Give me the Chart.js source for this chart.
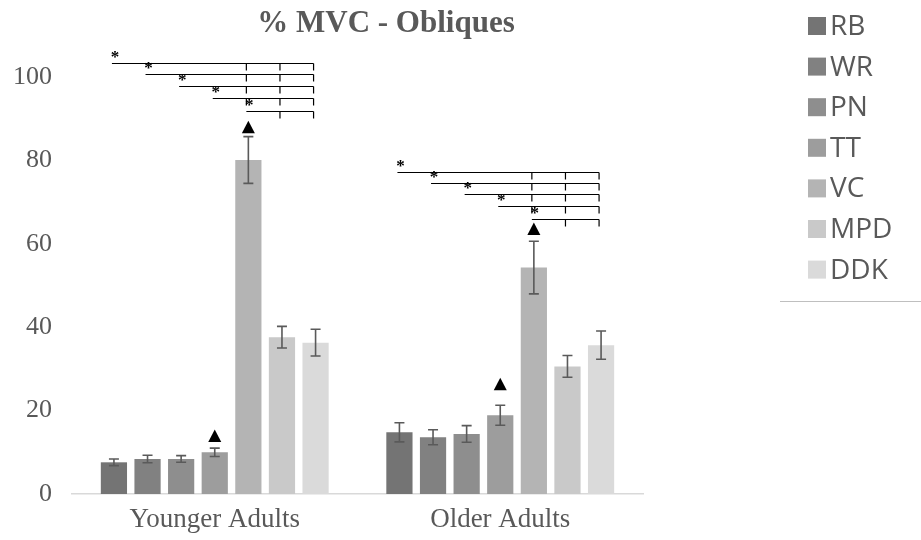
<!DOCTYPE html>
<html>
<head>
<meta charset="utf-8">
<script src="https://cdn.jsdelivr.net/npm/chart.js@4/dist/chart.umd.min.js"></script>
<style>
  html, body { margin: 0; padding: 0; background: #ffffff; }
  #c { display: block; }
</style>
</head>
<body>
<canvas id="c" width="921" height="540"></canvas>
<script>
// Groups and tasks
const groups = ['Younger Adults', 'Older Adults'];
const tasks = ['RB', 'WR', 'PN', 'TT', 'VC', 'MPD', 'DDK'];

// Mean % MVC per task: [younger, older]
const meanRB  = [7.6, 14.8];
const meanWR  = [8.4, 13.6];
const meanPN  = [8.4, 14.4];
const meanTT  = [10.0, 18.9];
const meanVC  = [80.1, 54.3];
const meanMPD = [37.6, 30.6];
const meanDDK = [36.3, 35.7];

// Standard error per task: [younger, older]
const errRB  = [0.8, 2.3];
const errWR  = [0.9, 1.8];
const errPN  = [0.8, 2.0];
const errTT  = [1.0, 2.4];
const errVC  = [5.6, 6.3];
const errMPD = [2.6, 2.6];
const errDDK = [3.2, 3.4];

// Y-axis ticks
const yTicks = [0, 20, 40, 60, 80, 100];

// Triangle markers (value of the marker base): [younger, older]
const triangleTT = [12.5, 24.9];
const triangleVC = [86.5, 62.1];

// Significance bracket levels, one per starting task (RB, WR, PN, TT, VC)
const bracketStarts = ['RB', 'WR', 'PN', 'TT', 'VC'];
const bracketTicks = ['VC', 'MPD', 'DDK'];
const bracketYounger = [103.4, 100.8, 97.9, 95.0, 91.9];
const bracketOlder = [77.1, 74.7, 71.9, 69.1, 65.9];

const means = [meanRB, meanWR, meanPN, meanTT, meanVC, meanMPD, meanDDK];
const errors = [errRB, errWR, errPN, errTT, errVC, errMPD, errDDK];
const colors = ['#747474', '#818181', '#8e8e8e', '#9d9d9d', '#b4b4b4', '#c9c9c9', '#dadada'];
const triangles = { TT: triangleTT, VC: triangleVC };
const brackets = [bracketYounger, bracketOlder];

const textGrey = '#595959';

const overlay = {
  id: 'overlay',
  afterDatasetsDraw(chart) {
    const { ctx } = chart;
    const y = chart.scales.y;
    const barX = (s, g) => chart.getDatasetMeta(s).data[g].x;
    ctx.save();

    // error bars
    ctx.strokeStyle = '#5a5a5a';
    ctx.lineWidth = 1.6;
    means.forEach((vals, s) => vals.forEach((v, g) => {
      const x = barX(s, g);
      const e = errors[s][g];
      const yt = y.getPixelForValue(v + e);
      const yb = y.getPixelForValue(v - e);
      ctx.beginPath();
      ctx.moveTo(x, yt); ctx.lineTo(x, yb);
      ctx.moveTo(x - 5, yt); ctx.lineTo(x + 5, yt);
      ctx.moveTo(x - 5, yb); ctx.lineTo(x + 5, yb);
      ctx.stroke();
    }));

    // triangle markers
    ctx.fillStyle = '#000000';
    Object.keys(triangles).forEach(task => {
      const s = tasks.indexOf(task);
      triangles[task].forEach((v, g) => {
        const x = barX(s, g);
        const base = y.getPixelForValue(v);
        ctx.beginPath();
        ctx.moveTo(x - 6.5, base);
        ctx.lineTo(x + 6.5, base);
        ctx.lineTo(x, base - 12.5);
        ctx.closePath();
        ctx.fill();
      });
    });

    // significance brackets with asterisks
    ctx.strokeStyle = '#000000';
    ctx.lineWidth = 1.2;
    ctx.font = 'bold 17px "Liberation Serif"';
    ctx.textAlign = 'center';
    ctx.textBaseline = 'alphabetic';
    const endIdx = tasks.indexOf('DDK');
    brackets.forEach((levels, g) => {
      levels.forEach((lv, k) => {
        const si = tasks.indexOf(bracketStarts[k]);
        const ly = Math.round(y.getPixelForValue(lv)) + 0.5;
        const x0 = barX(si, g) - 2;
        const x1 = barX(endIdx, g) - 2;
        ctx.beginPath();
        ctx.moveTo(x0, ly); ctx.lineTo(x1, ly);
        bracketTicks.forEach(t => {
          const ti = tasks.indexOf(t);
          if (ti > si) {
            const tx = barX(ti, g) - 2;
            ctx.moveTo(tx, ly); ctx.lineTo(tx, ly + 7);
          }
        });
        ctx.stroke();
        ctx.fillText('*', barX(si, g) + 1, ly - 2);
      });
    });
    ctx.restore();
  },
  afterDraw(chart) {
    const { ctx } = chart;
    ctx.save();
    // title
    ctx.fillStyle = textGrey;
    ctx.font = 'bold 31px "Liberation Serif"';
    ctx.textAlign = 'center';
    ctx.textBaseline = 'alphabetic';
    ctx.fillText('% MVC - Obliques', 386, 32);

    // legend
    ctx.font = '28px "Open Sans"';
    ctx.textAlign = 'left';
    ctx.textBaseline = 'middle';
    tasks.forEach((t, i) => {
      const cy = 26 + i * 40.6;
      ctx.fillStyle = colors[i];
      ctx.fillRect(808, cy - 9, 18, 18);
      ctx.fillStyle = textGrey;
      ctx.fillText(t, 830, cy + 1);
    });
    ctx.strokeStyle = '#bfbfbf';
    ctx.lineWidth = 1;
    ctx.beginPath();
    ctx.moveTo(780, 301.5); ctx.lineTo(921, 301.5);
    ctx.stroke();
    ctx.restore();
  }
};

new Chart(document.getElementById('c'), {
  type: 'bar',
  data: {
    labels: groups,
    datasets: tasks.map((t, i) => ({
      label: t,
      data: means[i],
      backgroundColor: colors[i],
      borderWidth: 0,
      categoryPercentage: 0.824,
      barPercentage: 0.78
    }))
  },
  options: {
    responsive: false,
    animation: false,
    devicePixelRatio: 1,
    layout: { padding: { left: 13, right: 278, top: 77, bottom: 0 } },
    plugins: {
      legend: { display: false },
      title: { display: false },
      tooltip: { enabled: false }
    },
    scales: {
      x: {
        grid: { display: false, drawTicks: false },
        border: { display: true, color: '#d9d9d9', width: 1.5 },
        afterFit: s => { s.height = 46; },
        ticks: {
          color: textGrey,
          padding: 10,
          font: { family: '"Liberation Serif"', size: 27 }
        }
      },
      y: {
        min: 0,
        max: 100,
        grid: { display: false, drawTicks: false },
        border: { display: false },
        afterFit: s => { s.width = 59; },
        afterBuildTicks: axis => { axis.ticks = yTicks.map(v => ({ value: v })); },
        ticks: {
          color: textGrey,
          padding: 20,
          font: { family: '"Liberation Serif"', size: 26 }
        }
      }
    }
  },
  plugins: [overlay]
});
</script>
</body>
</html>
